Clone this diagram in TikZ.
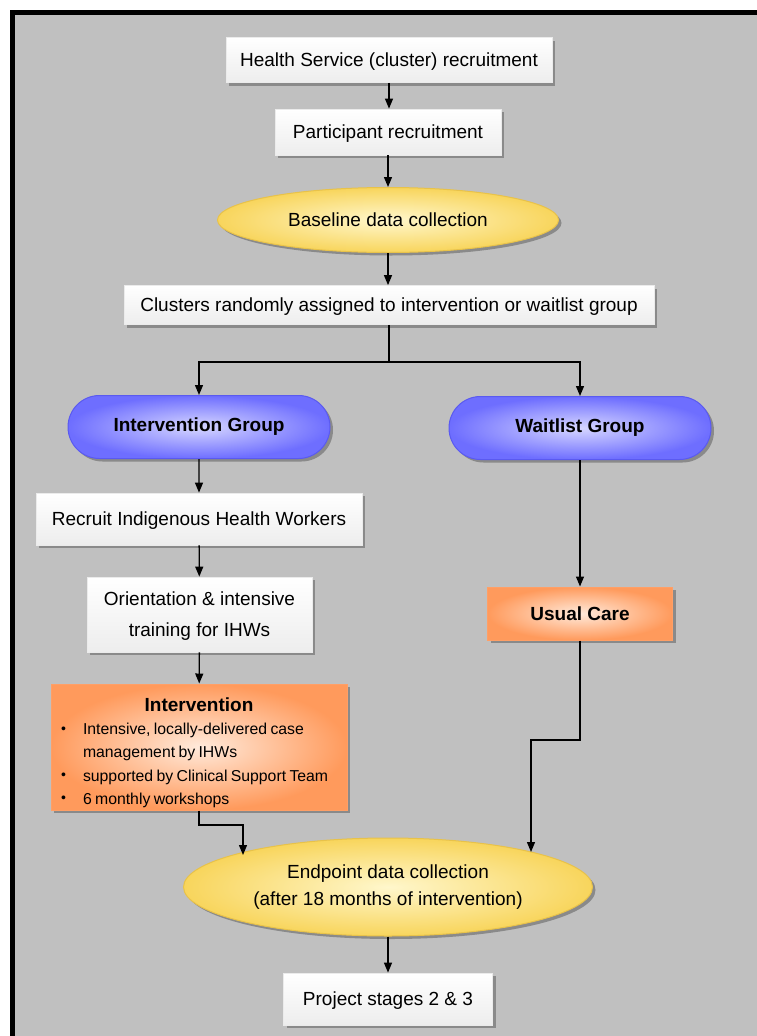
\documentclass[tikz,border=0pt]{standalone}
\usepackage{fontspec}
\setmainfont{Liberation Sans}
\usetikzlibrary{shapes.geometric,shapes.misc,shadows,arrows.meta}
\definecolor{bggray}{HTML}{C0C0C0}
\definecolor{shgray}{HTML}{8A8A8A}
\definecolor{ylin}{HTML}{FFF7CC}
\definecolor{ylout}{HTML}{F8D55C}
\definecolor{ylbd}{HTML}{E8C24A}
\definecolor{blin}{HTML}{D6D6FF}
\definecolor{blout}{HTML}{6E6EFF}
\definecolor{blbd}{HTML}{5A5AF0}
\definecolor{orin}{HTML}{FFEADB}
\definecolor{orout}{HTML}{FF9A5C}
\definecolor{orbd}{HTML}{FF9F66}
\tikzset{
  shd/.style={drop shadow={shadow xshift=3pt,shadow yshift=-3pt,fill=shgray,opacity=1}},
  graybox/.style={rectangle,draw=white!92!black,line width=0.8pt,top color=white,bottom color=gray!14,shd,inner sep=0pt,align=center,text depth=0pt,font=\fontsize{19}{23}\selectfont},
  yellipse/.style={ellipse,draw=ylbd,line width=1pt,inner color=ylin,outer color=ylout,shd,inner sep=0pt,align=center,font=\fontsize{19}{27}\selectfont},
  bluepill/.style={rounded rectangle,draw=blbd,line width=1pt,inner color=blin,outer color=blout,shd,inner sep=0pt,font=\bfseries\fontsize{19}{23}\selectfont},
  orbox/.style={rectangle,draw=orbd,line width=1pt,inner color=orin,outer color=orout,shd,inner sep=0pt},
  conn/.style={line width=1.3pt,-{Triangle[length=10pt,width=8pt]}},
  link/.style={line width=1.3pt}
}
\newcommand{\bulletitem}{\hangindent=22pt\hangafter=1\makebox[22pt][l]{\raisebox{1.5pt}{\fontsize{14}{14}\selectfont\textbullet}}}
\begin{document}
\begin{tikzpicture}[x=1pt,y=-1pt]
\useasboundingbox (0,0) rectangle (757,1036);
\clip (0,0) rectangle (757,1036);
\fill[white] (0,0) rectangle (757,1036);
\filldraw[fill=bggray,draw=black,line width=5pt] (12.5,12.5) rectangle (800,1080);

\node[graybox,minimum width=326pt,minimum height=45pt] (hs) at (389,60) {Health Service (cluster) recruitment};
\node[graybox,minimum width=226pt,minimum height=46pt] (pr) at (388,132) {Participant recruitment};
\node[yellipse,minimum width=341pt,minimum height=65pt] (base) at (388,220) {Baseline data collection};
\node[graybox,minimum width=530pt,minimum height=39pt] (clu) at (389,305) {Clusters randomly assigned to intervention or waitlist group};
\node[bluepill,minimum width=262pt,minimum height=63pt] (ig) at (199,427) {Intervention Group};
\node[bluepill,minimum width=262pt,minimum height=63pt] (wg) at (580,428) {Waitlist Group};
\node[graybox,minimum width=326pt,minimum height=52pt] (rihw) at (199,519) {Recruit Indigenous Health Workers};
\node[graybox,minimum width=225pt,minimum height=75pt] (ori) at (199.5,614.5) {Orientation \& intensive\\[8pt]training for IHWs};
\node[orbox,minimum width=185pt,minimum height=53pt,font=\bfseries\fontsize{19}{23}\selectfont] (uc) at (580,613.5) {Usual Care};
\node[orbox,minimum width=296pt,minimum height=126pt,text width=276pt,align=left] (iv) at (199,747)
 {\centering{\bfseries\fontsize{19}{22}\selectfont\rule{0pt}{25pt}Intervention}\par
  \raggedright\fontsize{15.8}{23.2}\selectfont
  \bulletitem Intensive, locally-delivered case management by IHWs\par
  \bulletitem supported by Clinical Support Team\par
  \bulletitem 6 monthly workshops\par};
\node[yellipse,minimum width=409pt,minimum height=98pt] (end) at (388,887) {Endpoint data collection\\(after 18 months of intervention)};
\node[graybox,minimum width=209pt,minimum height=52pt] (ps) at (388,999) {Project stages 2 \& 3};

\coordinate (split) at (389,362);
\coordinate (ivbend) at (199,825);
\coordinate (ucbend) at (580,740);

\draw[conn] (hs) -- (hs |- pr.north);
\draw[conn] (pr) -- (pr |- base.north);
\draw[conn] (base) -- (base |- clu.north);
\draw[link] (clu.south -| split) -- (split);
\draw[conn] (split) -| (ig.north);
\draw[conn] (split) -| (wg.north);
\draw[conn] (ig) -- (rihw);
\draw[conn] (rihw) -- (ori);
\draw[conn] (ori) -- (iv);
\draw[conn] (wg.south) -- (uc.north);
\draw[conn] (iv.south) -- (ivbend) -- (243,825) -- (243,855);
\draw[conn] (uc.south) -- (ucbend) -- (531,740) -- (531,852);
\draw[conn] (end) -- (ps);
\end{tikzpicture}
\end{document}
